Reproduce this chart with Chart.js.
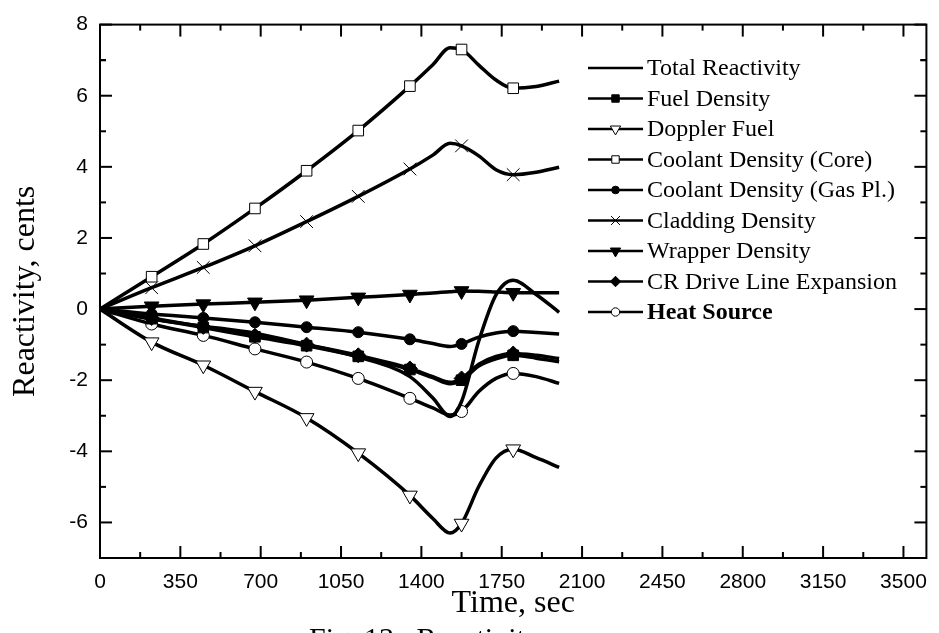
<!DOCTYPE html>
<html>
<head>
<meta charset="utf-8">
<script src="https://cdn.jsdelivr.net/npm/chart.js@4/dist/chart.umd.min.js"></script>
<style>
  html, body { margin: 0; padding: 0; background: #fff; }
  #wrap { width: 939px; height: 633px; overflow: hidden; }
</style>
</head>
<body>
<div id="wrap"><canvas id="grafico" width="939" height="633"></canvas></div>
<script>
// tempos (s) e valores
const tempos = [0, 225, 450, 675, 900, 1125, 1350, 1450, 1525, 1575, 1650, 1725, 1800, 1900, 2000];
const temposMarcador = [225, 450, 675, 900, 1125, 1350, 1575, 1800];

const reatTotal   = [0, -0.28, -0.48, -0.68, -1.00, -1.35, -1.90, -2.50, -3.02, -2.60, -0.90, 0.40, 0.81, 0.41, -0.09];
const densComb    = [0, -0.27, -0.52, -0.78, -1.03, -1.33, -1.70, -1.93, -2.10, -2.00, -1.60, -1.40, -1.30, -1.38, -1.48];
const doppler     = [0, -0.93, -1.58, -2.32, -3.06, -4.05, -5.24, -5.89, -6.30, -6.03, -4.99, -4.19, -3.94, -4.18, -4.45];
const refrNucleo  = [0, 0.91, 1.83, 2.83, 3.89, 5.02, 6.27, 6.87, 7.35, 7.30, 6.86, 6.44, 6.21, 6.26, 6.41];
const refrGas     = [0, -0.14, -0.25, -0.37, -0.51, -0.65, -0.85, -0.97, -1.05, -0.98, -0.79, -0.67, -0.62, -0.66, -0.70];
const revestim    = [0, 0.60, 1.17, 1.78, 2.46, 3.17, 3.94, 4.33, 4.66, 4.59, 4.31, 3.92, 3.78, 3.85, 3.99];
const envoltorio  = [0, 0.08, 0.14, 0.19, 0.25, 0.33, 0.41, 0.45, 0.49, 0.51, 0.50, 0.48, 0.46, 0.46, 0.46];
const linhaCR     = [0, -0.25, -0.50, -0.75, -1.00, -1.30, -1.67, -1.90, -2.06, -1.95, -1.55, -1.33, -1.25, -1.30, -1.39];
const fonteCalor  = [0, -0.42, -0.74, -1.12, -1.49, -1.95, -2.51, -2.78, -2.98, -2.88, -2.32, -1.95, -1.81, -1.90, -2.09];

const ticksX = [0, 350, 700, 1050, 1400, 1750, 2100, 2450, 2800, 3150, 3500];
const ticksY = [-6, -4, -2, 0, 2, 4, 6, 8];

const series = [
  { rotulo: 'Total Reactivity', valores: reatTotal, estilo: false },
  { rotulo: 'Fuel Density', valores: densComb, estilo: 'rect', raio: 7.5, cheio: true },
  { rotulo: 'Doppler Fuel', valores: doppler, estilo: 'triangle', raio: 8.5, cheio: false, rot: 180 },
  { rotulo: 'Coolant Density (Core)', valores: refrNucleo, estilo: 'rect', raio: 7.5, cheio: false },
  { rotulo: 'Coolant Density (Gas Pl.)', valores: refrGas, estilo: 'circle', raio: 5.5, cheio: true },
  { rotulo: 'Cladding Density', valores: revestim, estilo: 'crossRot', raio: 9, cheio: false },
  { rotulo: 'Wrapper Density', valores: envoltorio, estilo: 'triangle', raio: 8.5, cheio: true, rot: 180 },
  { rotulo: 'CR Drive Line Expansion', valores: linhaCR, estilo: 'rectRot', raio: 7.5, cheio: true },
  { rotulo: 'Heat Source', valores: fonteCalor, estilo: 'circle', raio: 6, cheio: false, negrito: true }
];

const datasets = series.map(s => ({
  label: s.rotulo,
  data: tempos.map((t, i) => ({ x: t, y: s.valores[i] })),
  borderColor: '#000',
  borderWidth: 3.5,
  cubicInterpolationMode: 'monotone',
  pointStyle: s.estilo || 'circle',
  pointRotation: s.rot || 0,
  pointBackgroundColor: s.cheio ? '#000' : '#fff',
  pointBorderColor: '#000',
  pointBorderWidth: 1,
  pointRadius: ctx => (s.estilo && temposMarcador.includes(tempos[ctx.dataIndex])) ? s.raio : 0,
  pointHoverRadius: 0
}));

// moldura com ticks para dentro
const moldura = {
  id: 'moldura',
  afterDatasetsDraw(chart) {
    const ctx = chart.ctx, a = chart.chartArea;
    const sx = chart.scales.x, sy = chart.scales.y;
    const traco = (x1, y1, x2, y2) => { ctx.beginPath(); ctx.moveTo(x1, y1); ctx.lineTo(x2, y2); ctx.stroke(); };
    ctx.save();
    ctx.strokeStyle = '#000';
    ctx.lineWidth = 2;
    ctx.strokeRect(a.left, a.top, a.right - a.left, a.bottom - a.top);
    const menoresX = ticksX.map(v => v + 175).filter(v => v < sx.max);
    const menoresY = ticksY.map(v => v - 1).concat([7]);
    ticksX.forEach(v => { const p = sx.getPixelForValue(v); traco(p, a.bottom, p, a.bottom - 12); traco(p, a.top, p, a.top + 12); });
    menoresX.forEach(v => { const p = sx.getPixelForValue(v); traco(p, a.bottom, p, a.bottom - 6); traco(p, a.top, p, a.top + 6); });
    ticksY.forEach(v => { const p = sy.getPixelForValue(v); traco(a.left, p, a.left + 12, p); traco(a.right, p, a.right - 12, p); });
    menoresY.forEach(v => { const p = sy.getPixelForValue(v); traco(a.left, p, a.left + 6, p); traco(a.right, p, a.right - 6, p); });
    ctx.restore();
  }
};

// legenda no estilo do Origin + legenda da figura cortada em baixo
const legenda = {
  id: 'legenda',
  afterDraw(chart) {
    const ctx = chart.ctx;
    ctx.save();
    chart.data.datasets.forEach((ds, i) => {
      const s = series[i];
      const y = 68 + i * 30.5;
      ctx.strokeStyle = '#000';
      ctx.lineWidth = 2.5;
      ctx.beginPath(); ctx.moveTo(588, y); ctx.lineTo(643, y); ctx.stroke();
      if (s.estilo) {
        ctx.fillStyle = s.cheio ? '#000' : '#fff';
        ctx.lineWidth = 1;
        Chart.helpers.drawPoint(ctx, { pointStyle: s.estilo, rotation: s.rot || 0, radius: s.raio * 0.7, borderWidth: 1 }, 615.5, y);
      }
      ctx.fillStyle = '#000';
      ctx.textBaseline = 'middle';
      ctx.font = (s.negrito ? 'bold ' : '') + '24px "Liberation Serif"';
      ctx.fillText(ds.label, 647, y + 1);
    });
    ctx.fillStyle = '#000';
    ctx.textBaseline = 'alphabetic';
    ctx.font = '30px "Liberation Serif"';
    ctx.fillText('Fig. 13.  Reactivity', 309, 648);
    ctx.restore();
  }
};

new Chart(document.getElementById('grafico'), {
  type: 'line',
  data: { datasets },
  options: {
    responsive: false,
    animation: false,
    events: [],
    layout: { padding: { top: 19, right: 7, left: 0, bottom: 0 } },
    plugins: { legend: { display: false }, tooltip: { enabled: false } },
    scales: {
      x: {
        type: 'linear', min: 0, max: 3600,
        afterBuildTicks: s => { s.ticks = ticksX.map(v => ({ value: v })); },
        afterFit: s => { s.height = 75; },
        grid: { display: false, drawTicks: false },
        border: { display: false },
        ticks: { autoSkip: false, maxRotation: 0, padding: 12, color: '#000', callback: v => String(v), font: { family: '"Liberation Sans"', size: 21 } },
        title: { display: true, text: 'Time, sec', color: '#000', font: { family: '"Liberation Serif"', size: 32 }, padding: { top: 0, bottom: 10 } }
      },
      y: {
        type: 'linear', min: -7, max: 8,
        afterBuildTicks: s => { s.ticks = ticksY.map(v => ({ value: v })); },
        afterFit: s => { s.width = 100; },
        grid: { display: false, drawTicks: false },
        border: { display: false },
        ticks: { padding: 12, color: '#000', font: { family: '"Liberation Sans"', size: 21 } },
        title: { display: true, text: 'Reactivity, cents', color: '#000', font: { family: '"Liberation Serif"', size: 32 }, padding: { top: 6, bottom: 0 } }
      }
    }
  },
  plugins: [moldura, legenda]
});
</script>
</body>
</html>
